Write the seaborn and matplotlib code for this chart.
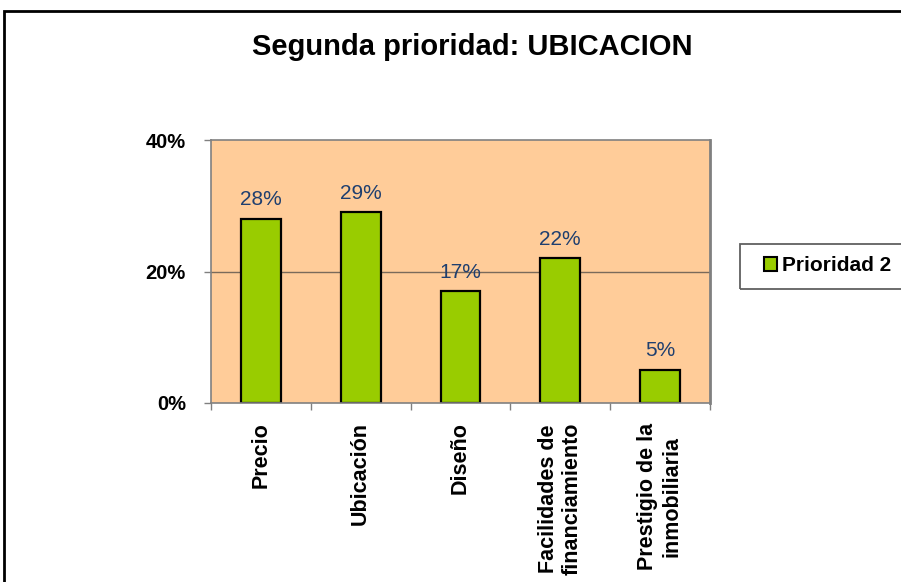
import matplotlib
matplotlib.use("Agg")
import matplotlib.pyplot as plt
import seaborn as sns
import pandas as pd
from matplotlib.patches import Rectangle
from matplotlib.ticker import FixedLocator, PercentFormatter

categories = ["Precio", "Ubicación", "Diseño", "Facilidades de\nfinanciamiento", "Prestigio de la\ninmobiliaria"]
values = [28, 29, 17, 22, 5]
value_labels = ["28%", "29%", "17%", "22%", "5%"]
series_name = "Prioridad 2"
title = "Segunda prioridad: UBICACION"
y_ticks = [0, 20, 40]

sns.set_theme(style="white")
plt.rcParams["font.family"] = ["Liberation Sans", "DejaVu Sans"]
plt.rcParams["text.color"] = "black"

df = pd.DataFrame({"cat": categories, "val": values, "serie": series_name})

fig = plt.figure(figsize=(9.01, 5.82), dpi=100)
fig.patch.set_facecolor("white")
ax = fig.add_axes([211/901, 1-403/582, (710-211)/901, (403-140)/582])

sns.barplot(data=df, x="cat", y="val", hue="serie", palette=["#99CC00"],
            width=0.4, edgecolor="black", linewidth=1.6, ax=ax, legend=True, saturation=1)

ax.set_facecolor("#FFCC99")
ax.set_ylim(0, 40)
ax.set_xlim(-0.5, len(categories) - 0.5)
ax.set_yticks(y_ticks)
ax.yaxis.set_major_formatter(PercentFormatter(decimals=0))
ax.set_xlabel("")
ax.set_ylabel("")

for s in ax.spines.values():
    s.set_color("#808080")
    s.set_linewidth(1.2)
ax.spines["right"].set_linewidth(2)

ax.axhline(20, color="#7a6a5a", lw=1.0, zorder=0.5)

ax.tick_params(axis="y", which="major", direction="out", length=5, width=1, color="#808080",
               left=True, pad=13, labelsize=14.5, labelcolor="black")
for t in ax.get_yticklabels():
    t.set_fontweight("bold")

ax.set_xticks(range(len(categories)))
ax.set_xticklabels(categories, rotation=90, ha="center", va="top", fontsize=15.5, fontweight="bold",
                   linespacing=1.2)
ax.tick_params(axis="x", which="major", length=0, pad=14, bottom=True, labelcolor="black")
ax.xaxis.set_minor_locator(FixedLocator([i - 0.5 for i in range(len(categories) + 1)]))
ax.tick_params(axis="x", which="minor", direction="out", length=5, width=1, color="#808080", bottom=True)

ax.bar_label(ax.containers[0], labels=value_labels, padding=7, fontsize=15, color="#1F3F6F")

leg = ax.legend(loc="center left", bbox_to_anchor=(764/901, 1-266/582), bbox_transform=fig.transFigure,
                frameon=False, fontsize=15, handlelength=0.62, handleheight=0.62,
                handletextpad=0.25, borderpad=0, borderaxespad=0)
for t in leg.get_texts():
    t.set_fontweight("bold")
    t.set_color("black")
for h in leg.legend_handles:
    h.set_edgecolor("black")
    h.set_linewidth(1.5)

fig.add_artist(Rectangle((740/901, 1-289/582), 0.3, 45/582, transform=fig.transFigure,
                         fill=False, edgecolor="#606060", linewidth=1.3))

fig.text(472/901, 1-47/582, title, ha="center", va="center", fontsize=21, fontweight="bold",
         color="black")

fig.add_artist(Rectangle((4/901, -0.1), 1.2, 1-11/582+0.1, transform=fig.transFigure,
                         fill=False, edgecolor="black", linewidth=2))

fig.savefig("out.png", dpi=100)
